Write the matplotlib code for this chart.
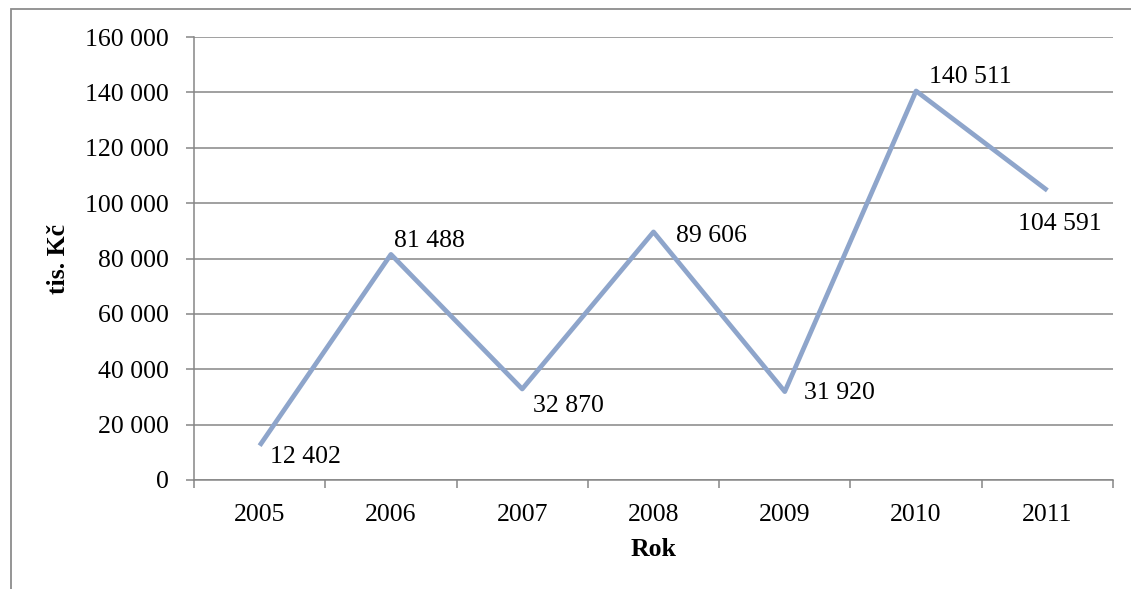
import matplotlib
matplotlib.use("Agg")
import matplotlib.pyplot as plt
from matplotlib.patches import Rectangle
from matplotlib.ticker import FuncFormatter

years = ["2005", "2006", "2007", "2008", "2009", "2010", "2011"]
values = [12402, 81488, 32870, 89606, 31920, 140511, 104591]
# label offsets (pixels) from each point
label_dx = [46, 39, 46, 58, 55, 54, 12]
label_dy = [-11, 13, -17, -4, -1, 14, -34]

plt.rcParams["font.family"] = ["Liberation Serif", "DejaVu Serif"]

W, H = 1131, 589
fig = plt.figure(figsize=(W / 100, H / 100), dpi=100)
fig.patch.set_facecolor("white")

# chart frame
fig.add_artist(Rectangle((11 / W, -0.1), 1.2, 1 - 9 / H + 0.1, transform=fig.transFigure,
                         fill=False, edgecolor="#8c8c8c", linewidth=1.3))

ax = fig.add_axes([194 / W, (H - 480) / H, (1113 - 194) / W, (480 - 37) / H])
grid_c = "#868686"

x = list(range(len(years)))
ax.plot(x, values, color="#8EA5CB", linewidth=3.4, solid_capstyle="butt", zorder=3)

for xi, v, dx, dy in zip(x, values, label_dx, label_dy):
    ax.annotate(f"{v:,}".replace(",", " "), xy=(xi, v), xytext=(dx, dy),
                textcoords="offset pixels", ha="center", va="center", fontsize=18.5)

ax.set_xlim(-0.5, len(years) - 0.5)
ax.set_ylim(0, 160000)
ax.set_yticks(range(0, 160001, 20000))
ax.yaxis.set_major_formatter(FuncFormatter(lambda v, p: f"{int(v):,}".replace(",", " ")))
ax.yaxis.grid(True, color=grid_c, linewidth=1.1)
ax.set_axisbelow(True)

ax.set_xticks([i - 0.5 for i in range(len(years) + 1)])
ax.set_xticklabels([])
ax.set_xticks(x, minor=True)
ax.set_xticklabels(years, minor=True)
ax.tick_params(axis="x", which="minor", length=0, pad=17, labelsize=18.5)
ax.tick_params(axis="x", which="major", length=6, width=1.1, color=grid_c)
ax.tick_params(axis="y", length=6, width=1.1, color=grid_c, labelsize=18.5, pad=12)

for s in ["top", "right"]:
    ax.spines[s].set_visible(False)
for s in ["left", "bottom"]:
    ax.spines[s].set_color(grid_c)
    ax.spines[s].set_linewidth(1.1)

ax.set_xlabel("Rok", fontsize=18.5, fontweight="bold", labelpad=9)
ax.set_ylabel("tis. Kč", fontsize=18.5, fontweight="bold", labelpad=11)

fig.savefig("out.png", dpi=100)
